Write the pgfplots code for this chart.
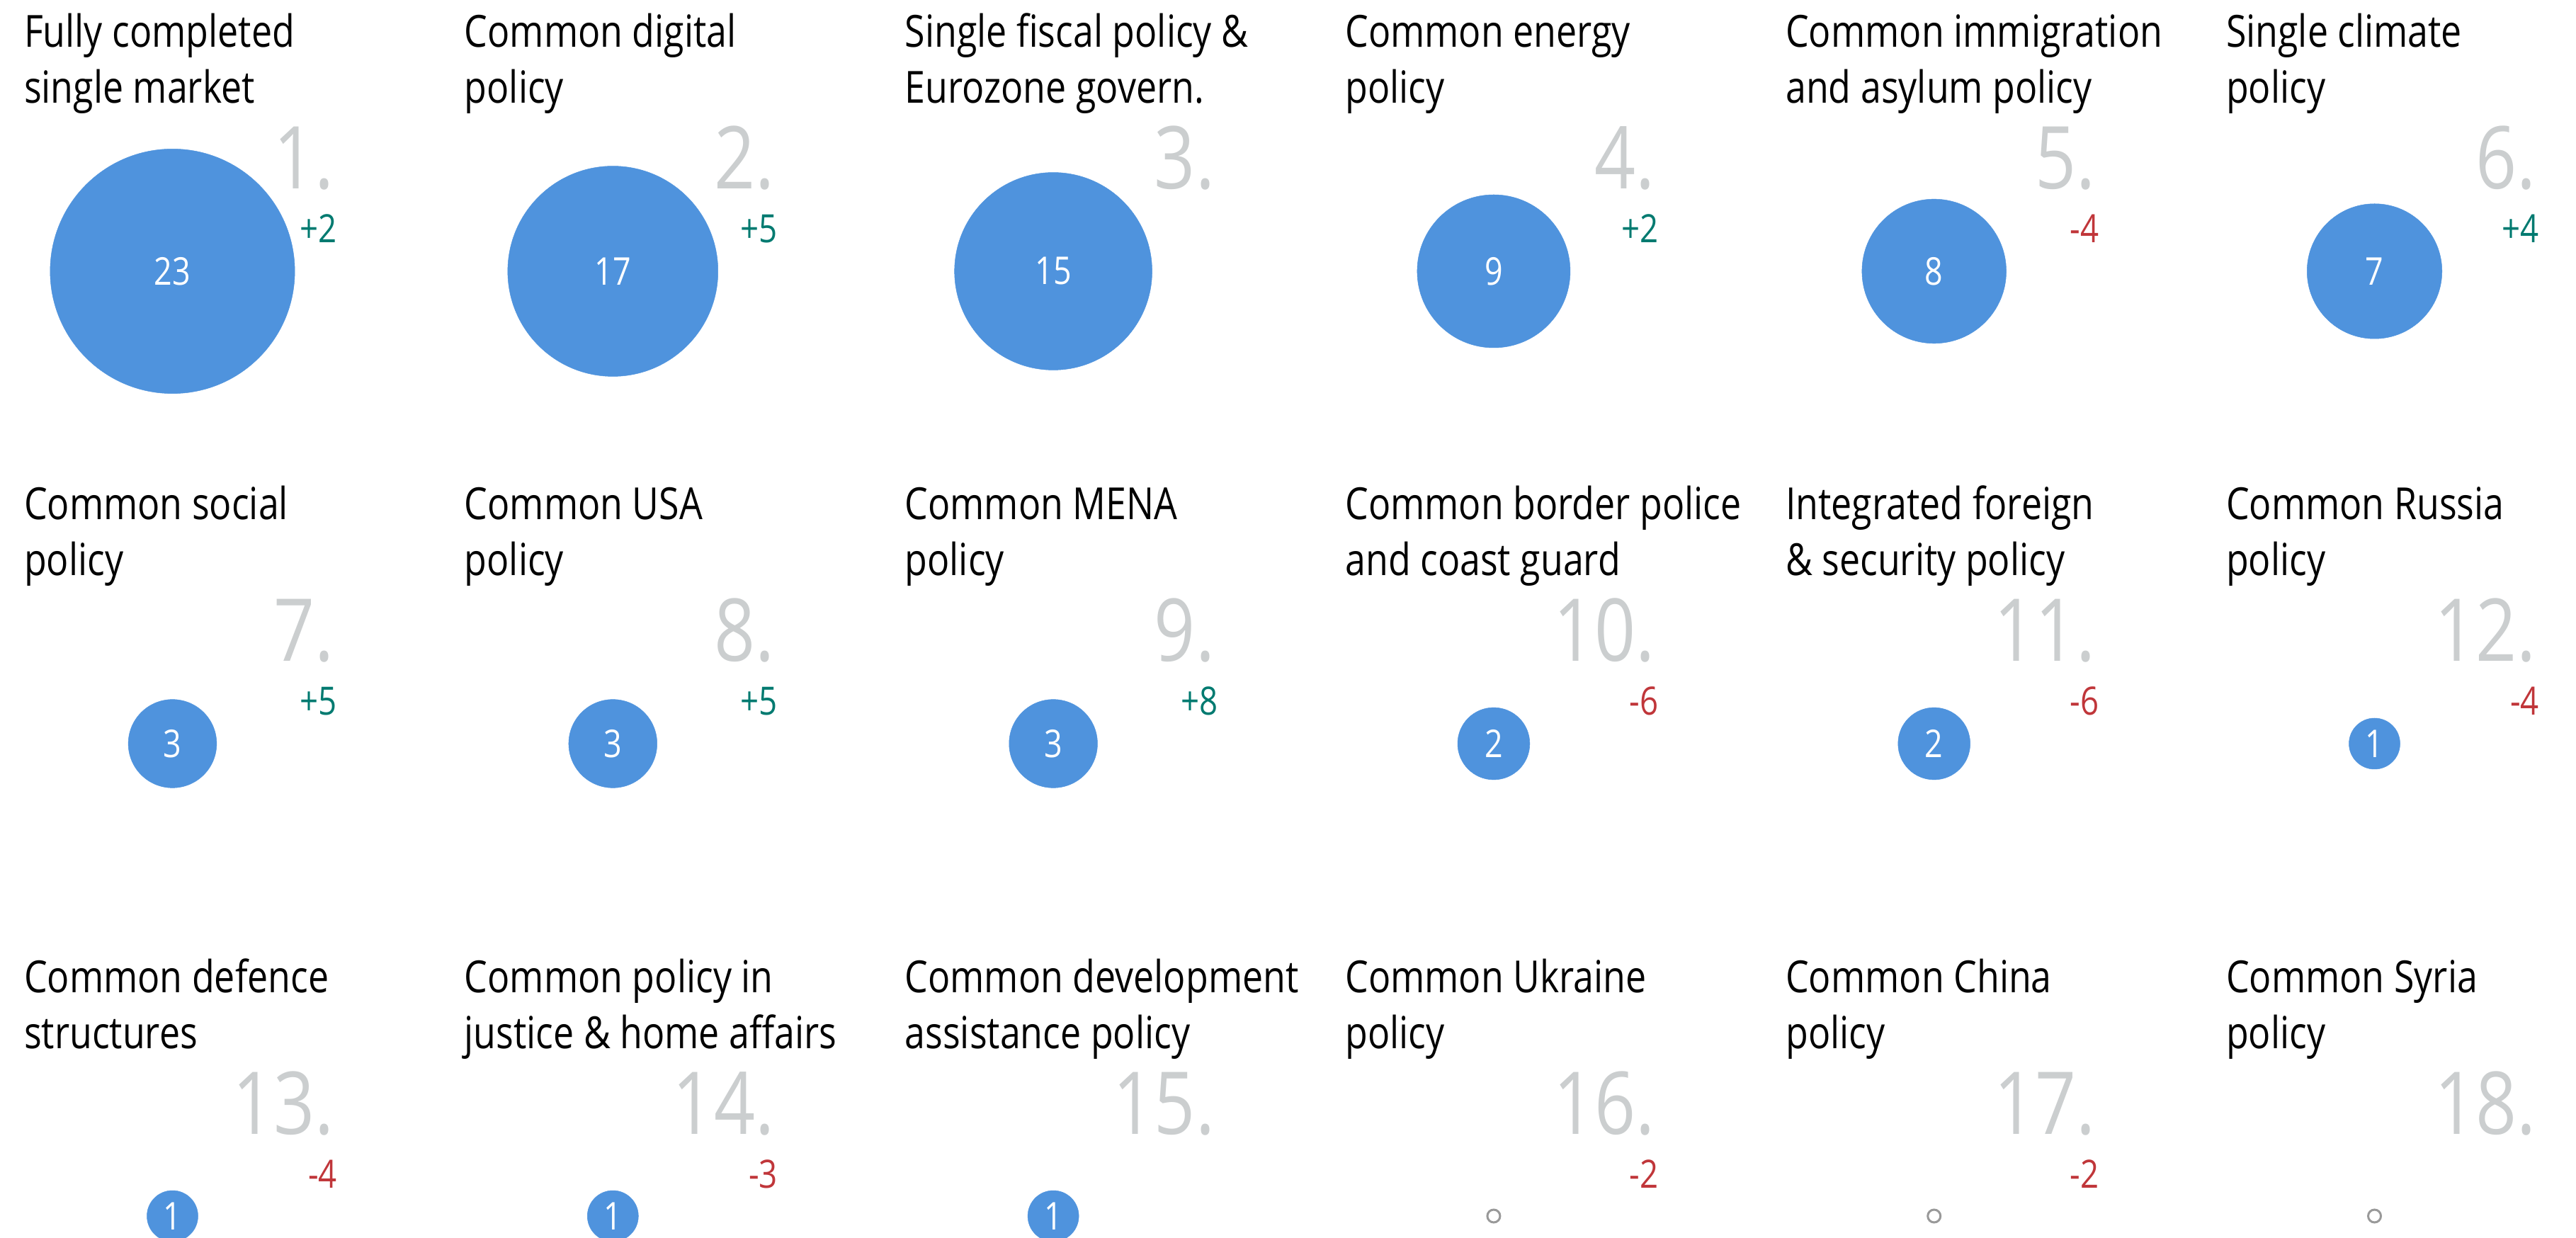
\documentclass[border=0pt]{standalone}
\usepackage{pgfplots}
\pgfplotsset{compat=1.18}
\usepackage{pgfplotstable}
\usepackage{fontspec}
\setmainfont{Open Sans}[FakeStretch=0.83]

\definecolor{bubble}{HTML}{4F93DD}
\definecolor{rankgrey}{HTML}{CBCECF}
\definecolor{pos}{HTML}{007A70}
\definecolor{neg}{HTML}{C0363A}
\definecolor{zgrey}{HTML}{999999}

% c = column, r = row, v = mentions, rank, d = change vs. previous survey
\pgfplotstableread[col sep=comma]{
c,r,v,rank,d,t1,t2
0,0,23,1,2,Fully completed,single market
1,0,17,2,5,Common digital,policy
2,0,15,3,0,Single fiscal policy \&,Eurozone govern.
3,0,9,4,2,Common energy,policy
4,0,8,5,-4,Common immigration,and asylum policy
5,0,7,6,4,Single climate,policy
0,1,3,7,5,Common social,policy
1,1,3,8,5,Common USA,policy
2,1,3,9,8,Common MENA,policy
3,1,2,10,-6,Common border police,and coast guard
4,1,2,11,-6,Integrated foreign,\& security policy
5,1,1,12,-4,Common Russia,policy
0,2,1,13,-4,Common defence,structures
1,2,1,14,-3,Common policy in,justice \& home affairs
2,2,1,15,0,Common development,assistance policy
3,2,0,16,-2,Common Ukraine,policy
4,2,0,17,-2,Common China,policy
5,2,0,18,0,Common Syria,policy
}\policies

\begin{document}
\begin{tikzpicture}
\begin{axis}[
  width=727.4pt, height=349.6pt, scale only axis,
  xmin=0, xmax=3637, ymin=0, ymax=1748, y dir=reverse,
  hide axis, clip=true,
  /pgf/number format/assume math mode=true,
  every node near coord/.append style={inner sep=0pt},
]
% bubbles, area proportional to mentions
\addplot[scatter, only marks, mark=*,
  restrict expr to domain={\thisrow{v}}{0.5:100},
  point meta=\thisrow{v},
  visualization depends on={\thisrow{v} \as \vv},
  scatter/use mapped color={draw=bubble, fill=bubble, line width=0.1pt},
  scatter/@pre marker code/.append style={/tikz/mark size={7.2*sqrt(\vv)}}]
  table[x expr=\thisrow{c}*621.8+243.5, y expr=\thisrow{r}*667+383] {\policies};
\addplot[only marks, mark=o, mark size=1.8pt,
  mark options={draw=zgrey, line width=0.6pt},
  restrict expr to domain={\thisrow{v}}{-0.5:0.5}]
  table[x expr=\thisrow{c}*621.8+243.5, y expr=\thisrow{r}*667+383] {\policies};
% values inside the bubbles
\addplot[draw=none, mark=none, nodes near coords={\pgfmathprintnumber{\pgfplotspointmeta}},
  point meta=\thisrow{v}, restrict expr to domain={\thisrow{v}}{0.5:100},
  every node near coord/.append style={anchor=center, text=white, font=\fontsize{10.8}{12}\selectfont}]
  table[x expr=\thisrow{c}*621.8+243.5, y expr=\thisrow{r}*667+383] {\policies};
% titles
\addplot[draw=none, mark=none, nodes near coords, point meta=explicit symbolic,
  every node near coord/.append style={anchor=base west, font=\fontsize{12.5}{14}\selectfont}]
  table[x expr=\thisrow{c}*621.8+33, y expr=\thisrow{r}*667+67, meta=t1] {\policies};
\addplot[draw=none, mark=none, nodes near coords, point meta=explicit symbolic,
  every node near coord/.append style={anchor=base west, font=\fontsize{12.5}{14}\selectfont}]
  table[x expr=\thisrow{c}*621.8+33, y expr=\thisrow{r}*667+146, meta=t2] {\policies};
% rank numbers
\addplot[draw=none, mark=none, nodes near coords={\pgfplotspointmeta.}, point meta=explicit symbolic,
  every node near coord/.append style={anchor=base east, text=rankgrey, font=\fontsize{24.5}{26}\selectfont}]
  table[x expr=\thisrow{c}*621.8+472.5, y expr=\thisrow{r}*667+267, meta=rank] {\policies};
% change, positive and negative
\addplot[draw=none, mark=none, nodes near coords={\pgfmathprintnumber[showpos]{\pgfplotspointmeta}},
  point meta=\thisrow{d}, restrict expr to domain={\thisrow{d}}{0.5:100},
  every node near coord/.append style={anchor=base east, text=pos, font=\fontsize{11}{12}\selectfont}]
  table[x expr=\thisrow{c}*621.8+477, y expr=\thisrow{r}*667+343] {\policies};
\addplot[draw=none, mark=none, nodes near coords={\pgfmathprintnumber{\pgfplotspointmeta}},
  point meta=\thisrow{d}, restrict expr to domain={\thisrow{d}}{-100:-0.5},
  every node near coord/.append style={anchor=base east, text=neg, font=\fontsize{11}{12}\selectfont}]
  table[x expr=\thisrow{c}*621.8+477, y expr=\thisrow{r}*667+343] {\policies};
\end{axis}
\pgfresetboundingbox
\path (current axis.south west) rectangle (current axis.north east);
\end{tikzpicture}
\end{document}
